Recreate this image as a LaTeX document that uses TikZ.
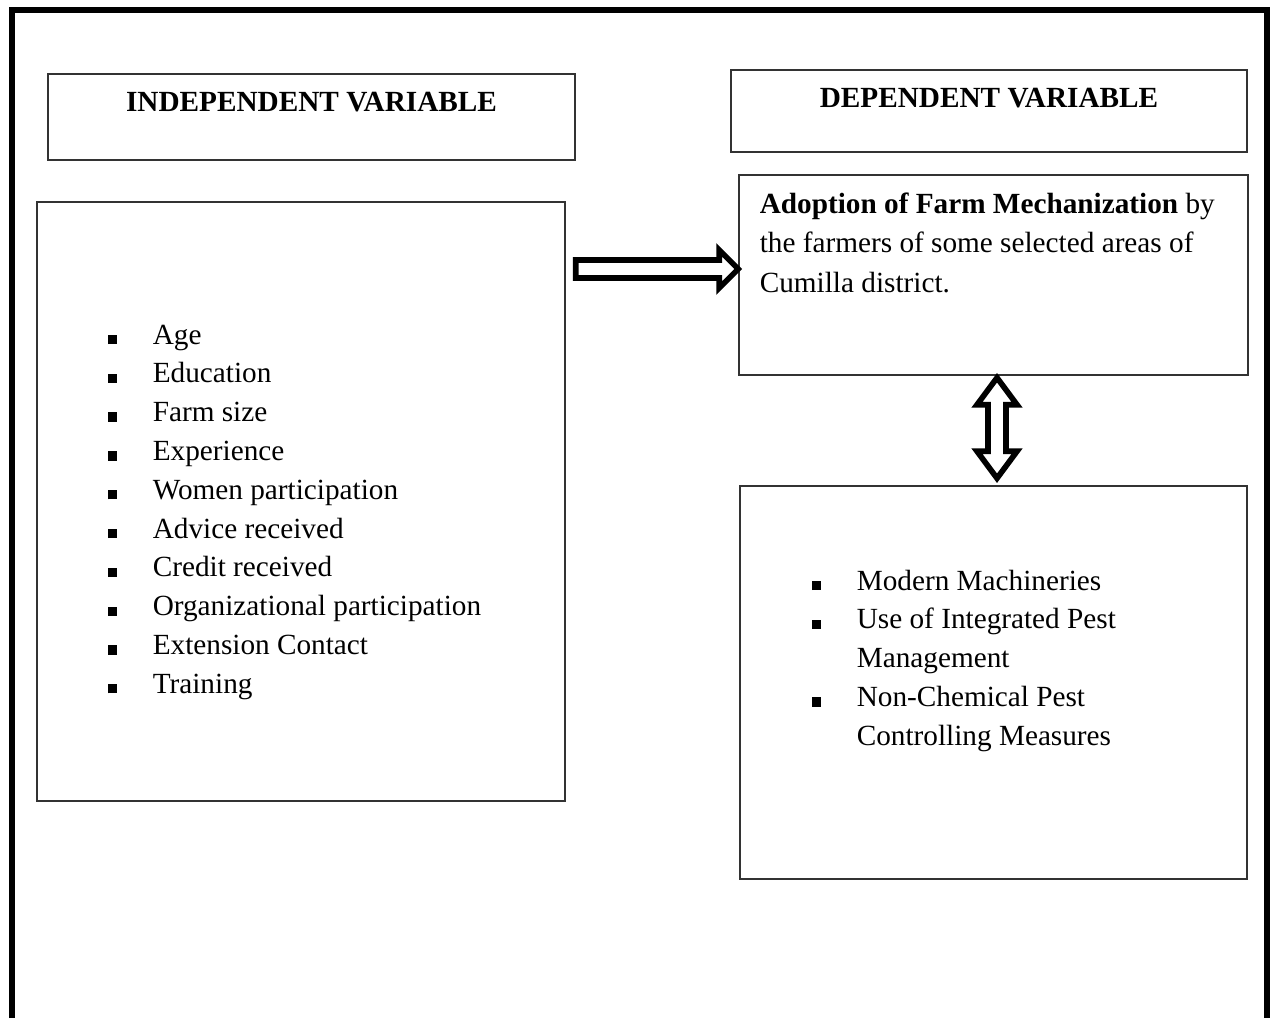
\documentclass[tikz,border=0pt]{standalone}
\usepackage{fontspec}
\setmainfont{Liberation Serif}
\usetikzlibrary{positioning, calc}

\newcommand{\sqitem}{\makebox[16pt][l]{\rule{3.3pt}{3.3pt}}}
\newcommand{\sqcont}{\hspace*{16pt}}

\begin{document}
\begin{tikzpicture}[
    x=0.0125cm, y=-0.0125cm,
    box/.style={rectangle, draw=black!80, line width=0.5pt, inner sep=0pt},
    txt/.style={inner sep=0pt, align=left, font=\fontsize{10.4pt}{13.8pt}\selectfont},
    headtxt/.style={inner sep=0pt, font=\fontsize{10.4pt}{13.8pt}\selectfont\bfseries},
    blockarr/.style={draw, line width=2pt, line join=miter},
    frame/.style={line width=1.8pt}
]
\useasboundingbox (0,0) rectangle (1277,1018);
% outer frame, open at the bottom
\draw[frame] (12,1018) -- (12,10) -- (1267,10) -- (1267,1018);

% boxes
\node[box, minimum width=6.5875cm, minimum height=1.075cm] (indephead) at (311.5,117) {};
\node[box, minimum width=6.45cm, minimum height=1.025cm] (dephead) at (989,111) {};
\node[box, minimum width=6.6cm, minimum height=7.4875cm] (indepbox) at (301,501.5) {};
\node[box, minimum width=6.3625cm, minimum height=2.5cm] (adoptbox) at (993.5,275) {};
\node[box, minimum width=6.3375cm, minimum height=4.9125cm] (effectbox) at (993.5,682.5) {};

% headings
\node[headtxt, anchor=base] (indeptitle) at ($(indephead.north)+(0,38)$) {INDEPENDENT VARIABLE};
\node[headtxt, anchor=base] (deptitle) at ($(dephead.north)+(0,38)$) {DEPENDENT VARIABLE};

% texts
\node[txt, anchor=north west] (indeplist) at ($(indepbox.north west)+(71,123)$) {%
\sqitem Age\\
\sqitem Education\\
\sqitem Farm size\\
\sqitem Experience\\
\sqitem Women participation\\
\sqitem Advice received\\
\sqitem Credit received\\
\sqitem Organizational participation\\
\sqitem Extension Contact\\
\sqitem Training};

\node[txt, anchor=north west, font=\fontsize{10.4pt}{14pt}\selectfont] (adopttext) at ($(adoptbox.north west)+(21,18)$) {%
\textbf{Adoption of Farm Mechanization} by\\
the farmers of some selected areas of\\
Cumilla district.};

\node[txt, anchor=north west] (effectlist) at ($(effectbox.north west)+(72,84)$) {%
\sqitem Modern Machineries\\
\sqitem Use of Integrated Pest\\
\sqcont Management\\
\sqitem Non-Chemical Pest\\
\sqcont Controlling Measures};

% block arrows
\coordinate (rarrs) at ($(indepbox.east |- adoptbox.west)+(10,-6)$);
\coordinate (rarrt) at ($(adoptbox.west)+(0,-6)$);
\coordinate (rarrh) at ($(rarrt)+(-19,0)$);
\draw[blockarr] ($(rarrs)+(0,-9)$) -- ($(rarrh)+(0,-9)$) -- ($(rarrh)+(0,-19)$) -- (rarrt)
    -- ($(rarrh)+(0,19)$) -- ($(rarrh)+(0,9)$) -- ($(rarrs)+(0,9)$) -- cycle;

\coordinate (darrt) at ($(adoptbox.south)+(3.5,2)$);
\coordinate (darrb) at ($(effectbox.north)+(3.5,-7)$);
\draw[blockarr] (darrt) -- ($(darrt)+(20,27)$) -- ($(darrt)+(9,27)$) -- ($(darrb)+(9,-27)$)
    -- ($(darrb)+(20,-27)$) -- (darrb) -- ($(darrb)+(-20,-27)$) -- ($(darrb)+(-9,-27)$)
    -- ($(darrt)+(-9,27)$) -- ($(darrt)+(-20,27)$) -- cycle;
\end{tikzpicture}
\end{document}
